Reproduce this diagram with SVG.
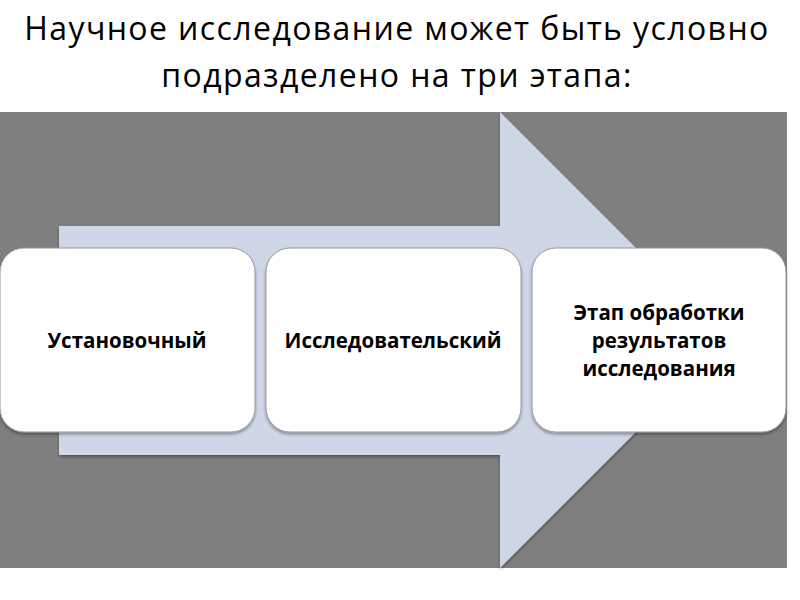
<svg xmlns="http://www.w3.org/2000/svg" width="800" height="600" viewBox="0 0 800 600">
<defs>
<style>
.title{font-family:"Open Sans","Noto Sans",sans-serif;font-size:32px;letter-spacing:1.4px;fill:#000;text-anchor:middle}
.box{fill:#fff;stroke:#9a9a9a;stroke-width:1}
.lbl{font-family:"Open Sans","Noto Sans",sans-serif;font-size:20.5px;font-weight:bold;fill:#000;text-anchor:middle}
</style>
<filter id="sh" x="-10%" y="-10%" width="120%" height="130%">
<feDropShadow dx="0" dy="2" stdDeviation="1.5" flood-color="#000" flood-opacity="0.35"/>
</filter>
</defs>
<rect width="800" height="600" fill="#fff"/>
<text class="title" x="397" y="40">Научное исследование может быть условно</text>
<text class="title" x="397" y="87">подразделено на три этапа:</text>
<rect x="0" y="112" width="787" height="456" fill="#7f7f7f"/>
<g id="connectors">
<polygon points="59,226 500,226 500,112 728,340 500,568 500,455 59,455" fill="#cfd6e6" filter="url(#sh)"/>
</g>
<g id="n1">
<rect class="box" x="0" y="248" width="255" height="184" rx="24" filter="url(#sh)"/>
<text class="lbl" x="127" y="348">Установочный</text>
</g>
<g id="n2">
<rect class="box" x="266" y="248" width="255" height="184" rx="24" filter="url(#sh)"/>
<text class="lbl" x="393" y="348">Исследовательский</text>
</g>
<g id="n3">
<rect class="box" x="532" y="248" width="254" height="184" rx="24" filter="url(#sh)"/>
<text class="lbl" x="659" y="320">Этап обработки</text>
<text class="lbl" x="659" y="348">результатов</text>
<text class="lbl" x="659" y="376">исследования</text>
</g>
</svg>
